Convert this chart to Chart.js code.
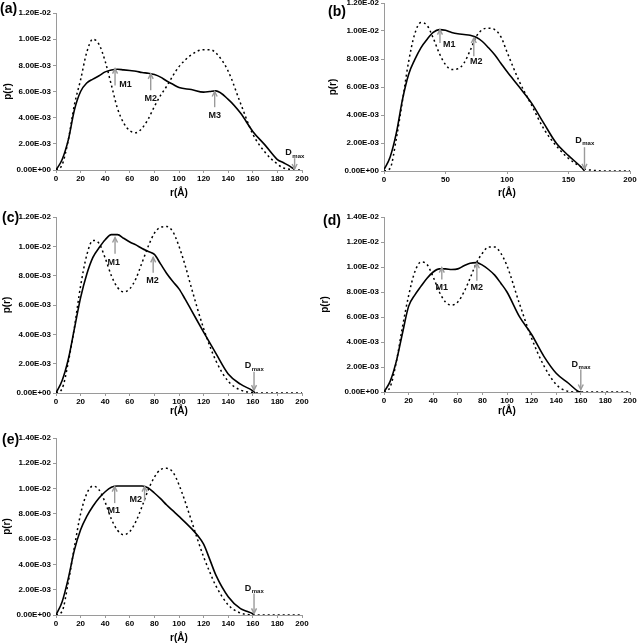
<!DOCTYPE html>
<html>
<head>
<meta charset="utf-8">
<script src="https://cdn.jsdelivr.net/npm/chart.js@4.4.1/dist/chart.umd.min.js"></script>
<style>
  body { margin: 0; background: #fff; }
  #fig { position: relative; width: 638px; height: 644px; overflow: hidden; font-family: "Liberation Sans", Arial, sans-serif; }
  canvas { position: absolute; }
  .tag { position: absolute; font-weight: bold; font-size: 14px; line-height: 16px; color: #000; }
</style>
</head>
<body>
<div id="fig">
  <canvas id="chartA" width="318" height="210" style="left:0;top:0"></canvas>
  <canvas id="chartB" width="320" height="210" style="left:318px;top:0"></canvas>
  <canvas id="chartC" width="318" height="210" style="left:0;top:210px"></canvas>
  <canvas id="chartD" width="320" height="210" style="left:318px;top:210px"></canvas>
  <canvas id="chartE" width="318" height="224" style="left:0;top:420px"></canvas>
  <div class="tag" style="left:0;top:0">(a)</div>
  <div class="tag" style="left:328px;top:3px">(b)</div>
  <div class="tag" style="left:2px;top:209px">(c)</div>
  <div class="tag" style="left:323px;top:212px">(d)</div>
  <div class="tag" style="left:2px;top:431px">(e)</div>
</div>
<script>
// p(r) values are in units of 1E-03
const rA = [0, 5, 10, 15, 20, 25, 30, 35, 40, 45, 50, 55, 60, 65, 70, 75, 80, 85, 90, 95, 100, 110, 120, 125, 130, 140, 150, 160, 170, 180, 185, 190, 193, 200];
const solidA = [0, 0.8, 2.3, 4.6, 6.0, 6.65, 6.95, 7.2, 7.5, 7.65, 7.7, 7.65, 7.6, 7.55, 7.45, 7.4, 7.3, 7.1, 6.8, 6.55, 6.3, 6.15, 5.95, 6.0, 6.05, 5.4, 4.35, 2.95, 1.9, 0.8, 0.55, 0.3, 0.1, null];
const dashedA = [0, 0.4, 2.3, 5.0, 6.9, 9.0, 10.0, 9.6, 8.3, 6.5, 4.7, 3.6, 3.0, 2.85, 3.2, 3.9, 4.85, 5.7, 6.4, 7.2, 7.9, 8.8, 9.2, 9.2, 8.95, 7.55, 5.1, 2.75, 1.35, 0.45, 0.15, 0.05, 0, 0];

const rB = [0, 5, 10, 15, 20, 25, 30, 35, 40, 45, 50, 55, 60, 65, 70, 75, 80, 85, 90, 95, 100, 110, 120, 130, 140, 150, 160, 163, 170, 180, 190, 200];
const solidB = [0.1, 1.0, 2.7, 5.1, 6.9, 7.95, 8.8, 9.4, 9.9, 10.1, 10.05, 9.9, 9.8, 9.75, 9.7, 9.55, 9.25, 8.8, 8.3, 7.7, 7.1, 6.0, 4.85, 3.4, 2.0, 1.1, 0.3, 0, null, null, null, null];
const dashedB = [0, 0.2, 2.3, 5.0, 7.8, 9.8, 10.6, 10.4, 9.5, 8.4, 7.6, 7.25, 7.3, 7.7, 8.6, 9.6, 10.1, 10.2, 10.1, 9.6, 8.5, 6.4, 4.7, 3.0, 1.8, 0.9, 0.3, 0.15, 0.05, 0, 0, 0];

const rC = [0, 5, 10, 15, 20, 25, 30, 35, 40, 45, 50, 55, 60, 65, 70, 75, 80, 85, 90, 95, 100, 105, 110, 120, 130, 140, 150, 160, 162, 170, 180, 190, 200];
const solidC = [0, 0.85, 2.3, 4.4, 6.5, 8.1, 9.25, 9.9, 10.45, 10.8, 10.8, 10.55, 10.3, 10.1, 9.85, 9.65, 9.45, 8.8, 8.15, 7.6, 7.1, 6.4, 5.65, 4.15, 2.7, 1.3, 0.6, 0.15, 0, null, null, null, null];
const dashedC = [0, 0.3, 2.1, 4.5, 7.3, 9.4, 10.4, 10.2, 9.2, 8.0, 7.2, 6.9, 7.1, 7.8, 8.9, 10.0, 10.9, 11.3, 11.35, 11.0, 10.0, 8.7, 7.2, 4.4, 2.2, 0.8, 0.2, 0.03, 0, 0, 0, 0, 0];

const rD = [0, 5, 10, 15, 20, 25, 30, 35, 40, 45, 50, 55, 60, 65, 70, 75, 80, 85, 90, 95, 100, 110, 120, 130, 140, 150, 158, 160, 170, 180, 190, 200];
const solidD = [0, 0.85, 2.45, 4.7, 6.85, 7.75, 8.45, 9.1, 9.6, 9.85, 9.85, 9.8, 9.85, 10.1, 10.3, 10.35, 10.15, 9.8, 9.35, 8.7, 8.0, 6.05, 4.6, 2.85, 1.5, 0.7, 0.05, 0, null, null, null, null];
const dashedD = [0, 0.4, 2.4, 5.2, 7.7, 9.6, 10.4, 10.2, 9.2, 8.0, 7.2, 6.95, 7.2, 8.0, 9.1, 10.3, 11.1, 11.6, 11.6, 11.1, 10.1, 7.1, 4.3, 2.1, 0.6, 0.05, 0, 0, 0, 0, 0, 0];

const rE = [0, 5, 10, 15, 20, 25, 30, 35, 40, 45, 50, 55, 60, 65, 70, 75, 80, 85, 90, 95, 100, 110, 115, 120, 125, 130, 140, 150, 155, 160, 161, 170, 180, 190, 200];
const solidE = [0, 1.05, 2.9, 5.15, 6.75, 7.8, 8.6, 9.25, 9.75, 10.1, 10.2, 10.2, 10.2, 10.2, 10.2, 10.05, 9.65, 9.2, 8.7, 8.25, 7.8, 6.85, 6.3, 5.6, 4.4, 3.15, 1.45, 0.5, 0.3, 0.1, 0, null, null, null, null];
const dashedE = [0, 0.3, 2.6, 5.4, 8.0, 9.6, 10.2, 9.9, 8.9, 7.6, 6.7, 6.35, 6.6, 7.4, 8.6, 9.9, 10.9, 11.5, 11.6, 11.3, 10.3, 7.5, 6.0, 4.6, 3.4, 2.3, 0.8, 0.15, 0.05, 0, 0, 0, 0, 0, 0];

// arrow marks: r position, arrow tail/tip and label anchor (data units)
const marksA = [
  { name: "M1", r: 48, tail: 6.45, tip: 7.75, lr: 51.5, ly: 6.5, align: "left" },
  { name: "M2", r: 77, tail: 6.1, tip: 7.35, lr: 77, ly: 5.5, align: "center" },
  { name: "M3", r: 129, tail: 4.8, tip: 6.0, lr: 129, ly: 4.2, align: "center" },
  { name: "D", sub: "max", r: 194, tail: 0.9, tip: 0.08, lr: 194, ly: 1.3, align: "center" }
];
const marksB = [
  { name: "M1", r: 45.5, tail: 9.15, tip: 10.1, lr: 48, ly: 9.05, align: "left" },
  { name: "M2", r: 73, tail: 8.2, tip: 9.5, lr: 75, ly: 7.85, align: "center" },
  { name: "D", sub: "max", r: 163, tail: 1.7, tip: 0.15, lr: 163, ly: 2.2, align: "center" }
];
const marksC = [
  { name: "M1", r: 48, tail: 9.5, tip: 10.6, lr: 47, ly: 8.9, align: "center" },
  { name: "M2", r: 79, tail: 8.2, tip: 9.25, lr: 78.5, ly: 7.7, align: "center" },
  { name: "D", sub: "max", r: 161, tail: 1.45, tip: 0.2, lr: 161, ly: 1.85, align: "center" }
];
const marksD = [
  { name: "M1", r: 47, tail: 9.0, tip: 9.95, lr: 47, ly: 8.35, align: "center" },
  { name: "M2", r: 75.5, tail: 8.9, tip: 10.3, lr: 75.5, ly: 8.35, align: "center" },
  { name: "D", sub: "max", r: 160, tail: 1.8, tip: 0.2, lr: 160, ly: 2.2, align: "center" }
];
const marksE = [
  { name: "M1", r: 47.7, tail: 8.85, tip: 10.15, lr: 47, ly: 8.25, align: "center" },
  { name: "M2", r: 72, tail: 9.0, tip: 10.15, lr: 70, ly: 9.1, align: "right" },
  { name: "D", sub: "max", r: 161, tail: 1.7, tip: 0.13, lr: 161, ly: 2.1, align: "center" }
];

const FONT = "'Liberation Sans', Arial, sans-serif";
const AXIS_GREY = "#9a9a9a";

function sci(v) {
  if (v === 0) return "0.00E+00";
  const parts = (v * 1e-3).toExponential(2).split("e");
  const n = parseInt(parts[1], 10);
  return parts[0] + "E" + (n < 0 ? "-" : "+") + String(Math.abs(n)).padStart(2, "0");
}

const arrowMarks = {
  id: "arrowMarks",
  afterDatasetsDraw(chart, args, opts) {
    const ctx = chart.ctx, xs = chart.scales.x, ys = chart.scales.y;
    (opts.items || []).forEach(m => {
      const x = xs.getPixelForValue(m.r);
      const y1 = ys.getPixelForValue(m.tail);
      const y2 = ys.getPixelForValue(m.tip);
      ctx.save();
      ctx.strokeStyle = AXIS_GREY;
      ctx.lineWidth = 1.4;
      ctx.beginPath();
      ctx.moveTo(x, y1);
      ctx.lineTo(x, y2);
      ctx.stroke();
      const dir = y2 < y1 ? 1 : -1;
      ctx.beginPath();
      ctx.moveTo(x - 2.5, y2 + dir * 5);
      ctx.lineTo(x, y2);
      ctx.lineTo(x + 2.5, y2 + dir * 5);
      ctx.stroke();

      const lx = xs.getPixelForValue(m.lr);
      const ly = ys.getPixelForValue(m.ly);
      ctx.fillStyle = "#111";
      ctx.textBaseline = "middle";
      ctx.font = "bold 9px " + FONT;
      if (m.sub) {
        const w1 = ctx.measureText(m.name).width;
        ctx.font = "bold 6px " + FONT;
        const w2 = ctx.measureText(m.sub).width;
        const x0 = lx - (w1 + w2) / 2;
        ctx.textAlign = "left";
        ctx.font = "bold 9px " + FONT;
        ctx.fillText(m.name, x0, ly);
        ctx.font = "bold 6px " + FONT;
        ctx.fillText(m.sub, x0 + w1 + 0.5, ly + 3);
      } else {
        ctx.textAlign = m.align;
        ctx.fillText(m.name, lx, ly);
      }
      ctx.restore();
    });
  }
};

function makePanel(id, r, solid, dashed, marks, lay) {
  const solidPts = r.map((x, i) => ({ x: x, y: solid[i] }));
  const dashedPts = r.map((x, i) => ({ x: x, y: dashed[i] }));
  return new Chart(document.getElementById(id), {
    type: "line",
    data: {
      datasets: [
        {
          data: dashedPts,
          borderColor: "#000",
          borderWidth: 1.5,
          borderDash: [2, 3],
          pointRadius: 0,
          cubicInterpolationMode: "monotone"
        },
        {
          data: solidPts,
          borderColor: "#000",
          borderWidth: 1.6,
          pointRadius: 0,
          cubicInterpolationMode: "monotone"
        }
      ]
    },
    options: {
      responsive: false,
      animation: false,
      layout: { padding: { top: lay.top, right: lay.right, left: 0, bottom: 0 } },
      plugins: {
        legend: { display: false },
        tooltip: { enabled: false },
        arrowMarks: { items: marks }
      },
      scales: {
        x: {
          type: "linear",
          min: 0,
          max: 200,
          grid: { drawOnChartArea: false, tickLength: 3, color: AXIS_GREY },
          border: { color: AXIS_GREY, width: 1 },
          ticks: { stepSize: lay.xStep, padding: 1, maxRotation: 0, color: "#000", font: { family: FONT, size: 8, weight: "bold" } },
          title: { display: true, text: "r(Å)", color: "#000", padding: { top: 0, bottom: lay.xTitlePad }, font: { family: FONT, size: 10, weight: "bold" } },
          afterFit: s => { s.height = lay.xH; s.paddingLeft = 0; s.paddingRight = 0; }
        },
        y: {
          min: 0,
          max: lay.yMax,
          grid: { drawOnChartArea: false, tickLength: 3, color: AXIS_GREY },
          border: { color: AXIS_GREY, width: 1 },
          ticks: { stepSize: 2, padding: 2, color: "#000", font: { family: FONT, size: 8, weight: "bold" }, callback: v => sci(v) },
          title: { display: true, text: "p(r)", color: "#000", padding: { top: lay.yTitlePad, bottom: 0 }, font: { family: FONT, size: 10, weight: "bold" } },
          afterFit: s => { s.width = lay.yW; s.paddingTop = 0; s.paddingBottom = 0; }
        }
      }
    },
    plugins: [arrowMarks]
  });
}

makePanel("chartA", rA, solidA, dashedA, marksA, { top: 13, right: 16, yW: 56, xH: 40, yTitlePad: 2, xTitlePad: 11, yMax: 12, xStep: 20 });
makePanel("chartB", rB, solidB, dashedB, marksB, { top: 3, right: 8, yW: 66, xH: 39, yTitlePad: 9, xTitlePad: 11, yMax: 12, xStep: 50 });
makePanel("chartC", rC, solidC, dashedC, marksC, { top: 7, right: 16, yW: 56, xH: 27, yTitlePad: 1, xTitlePad: 3, yMax: 12, xStep: 20 });
makePanel("chartD", rD, solidD, dashedD, marksD, { top: 7, right: 8, yW: 66, xH: 28, yTitlePad: 1, xTitlePad: 3, yMax: 14, xStep: 20 });
makePanel("chartE", rE, solidE, dashedE, marksE, { top: 18, right: 16, yW: 56, xH: 29, yTitlePad: 1, xTitlePad: 0, yMax: 14, xStep: 20 });
</script>
</body>
</html>
